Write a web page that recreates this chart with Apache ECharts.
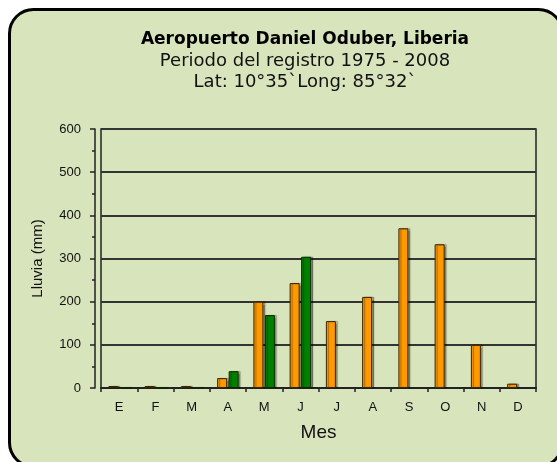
<!DOCTYPE html>
<html><head><meta charset="utf-8">
<script src="https://cdn.jsdelivr.net/npm/echarts@6/dist/echarts.min.js"></script>
<style>html,body{margin:0;padding:0;background:#fff}#c{width:557px;height:462px}</style>
</head><body><div id="c"></div>
<script>
const months = ['E','F','M','A','M','J','J','A','S','O','N','D'];
const serieA = [3,2,3,23,200,243,155,211,370,333,100,10];
const serieB = [1,1,2,39,169,304,null,null,null,null,null,null];
const yTicks = {min:0, max:600, interval:100};
const titleText = 'Aeropuerto Daniel Oduber, Liberia';
const sub1 = 'Periodo del registro 1975 - 2008';
const sub2 = 'Lat: 10°35`Long: 85°32`';

const chart = echarts.init(document.getElementById('c'), null, {renderer:'canvas'});
const font = 'Liberation Sans, Arial, sans-serif';
chart.setOption({
  animation:false,
  backgroundColor:'#ffffff',
  graphic:[{type:'rect', z:-10, shape:{x:9.5,y:9.5,width:553,height:457,r:24},
    style:{fill:'#d8e4bc', stroke:'#000', lineWidth:3}}],
  title:[
    {text:titleText, left:300, top:26, textAlign:'center',
     textStyle:{fontFamily:'DejaVu Sans', fontWeight:'bold', fontSize:17, color:'#000'}},
    {text:sub1, left:300, top:47, textAlign:'center',
     textStyle:{fontFamily:'DejaVu Sans', fontWeight:'normal', fontSize:18, color:'#111'}},
    {text:sub2, left:300, top:68, textAlign:'center',
     textStyle:{fontFamily:'DejaVu Sans', fontWeight:'normal', fontSize:18, color:'#111'}}
  ],
  grid:{left:101, right:21, top:129, bottom:74, show:true, borderColor:'#222', borderWidth:1.5, backgroundColor:'transparent'},
  xAxis:{type:'category', data:months, offset:3,
    axisLine:{lineStyle:{color:'#222', width:2}},
    axisTick:{show:true, length:4, lineStyle:{color:'#222', width:1.5}},
    axisLabel:{fontFamily:font, fontSize:13, color:'#111', margin:10},
    name:'Mes', nameLocation:'middle', nameGap:32,
    nameTextStyle:{fontFamily:font, fontSize:19, color:'#111'}},
  yAxis:{type:'value', min:yTicks.min, max:yTicks.max, interval:yTicks.interval, offset:6,
    axisLine:{show:true, lineStyle:{color:'#222', width:1.5}},
    axisTick:{show:true, length:5, lineStyle:{color:'#222', width:1.5}},
    minorTick:{show:true, splitNumber:2, length:3, lineStyle:{color:'#222', width:1.5}},
    splitLine:{show:true, lineStyle:{color:'#333', width:2}},
    axisLabel:{fontFamily:font, fontSize:13, color:'#111', margin:14},
    name:'Lluvia (mm)', nameLocation:'middle', nameGap:50, nameRotate:90,
    nameTextStyle:{fontFamily:font, fontSize:15, color:'#111'}},
  series:[
    {type:'bar', data:serieA, barWidth:10, barGap:'15%', barMinHeight:2,
     itemStyle:{color:'#ff9900', borderColor:'#3a2600', borderWidth:1,
       shadowColor:'rgba(0,0,0,0.35)', shadowOffsetX:2, shadowOffsetY:0, shadowBlur:1}},
    {type:'bar', data:serieB, barWidth:10,
     itemStyle:{color:'#008000', borderColor:'#102a00', borderWidth:1,
       shadowColor:'rgba(0,0,0,0.35)', shadowOffsetX:2, shadowOffsetY:0, shadowBlur:1}}
  ]
});
</script></body></html>
